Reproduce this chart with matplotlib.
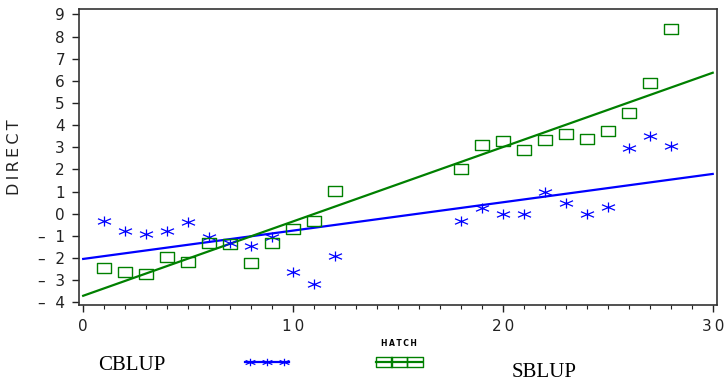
import numpy as np
import matplotlib
matplotlib.use("Agg")
import matplotlib.pyplot as plt
from matplotlib.path import Path
from matplotlib.lines import Line2D
from matplotlib.ticker import FixedLocator, MultipleLocator, FuncFormatter

# Data
hatch = np.array([1, 2, 3, 4, 5, 6, 7, 8, 9, 10, 11, 12,
                  18, 19, 20, 21, 22, 23, 24, 25, 26, 27, 28])
cblup = np.array([-0.34, -0.79, -0.92, -0.79, -0.38, -1.06, -1.33, -1.46, -1.06, -2.62, -3.18, -1.90,
                  -0.34, 0.28, -0.02, 0.01, 0.98, 0.50, 0.01, 0.31, 2.96, 3.49, 3.05])
sblup = np.array([-2.47, -2.65, -2.73, -1.97, -2.17, -1.31, -1.37, -2.21, -1.30, -0.70, -0.31, 1.03,
                  2.04, 3.09, 3.30, 2.86, 3.31, 3.61, 3.36, 3.73, 4.54, 5.89, 8.34])
y_ticks = list(range(-4, 10))
x_ticks = [0, 10, 20, 30]

blue = '#0000ff'
green = '#008000'

# marker bintang & kotak ala SAS
star = Path([(0, -1), (0, 1), (-1.3, -0.55), (1.3, 0.55), (-1.3, 0.55), (1.3, -0.55)],
            [Path.MOVETO, Path.LINETO, Path.MOVETO, Path.LINETO, Path.MOVETO, Path.LINETO])
box = Path([(-1, -0.65), (1, -0.65), (1, 0.65), (-1, 0.65), (-1, -0.65)],
           [Path.MOVETO, Path.LINETO, Path.LINETO, Path.LINETO, Path.CLOSEPOLY])

fig = plt.figure(figsize=(7.26, 3.83), dpi=100)
ax = fig.add_axes([0.1085, 0.2037, 0.8787, 0.772])

# garis regresi
xr = np.array([0, 30])
for y, c in [(cblup, blue), (sblup, green)]:
    b, a = np.polyfit(hatch, y, 1)
    ax.plot(xr, a + b * xr, color=c, lw=1.6, zorder=2)

ax.plot(hatch, cblup, linestyle='none', marker=star, markersize=9.4,
        markeredgecolor=blue, markeredgewidth=0.9, zorder=3)
ax.plot(hatch, sblup, linestyle='none', marker=box, markersize=10.2,
        markerfacecolor='none', markeredgecolor=green, markeredgewidth=1.0, zorder=3)

ax.set_xlim(-0.21, 30.19)
ax.set_ylim(-4.12, 9.23)

ax.xaxis.set_major_locator(FixedLocator(x_ticks))
ax.xaxis.set_minor_locator(MultipleLocator(1))
ax.yaxis.set_major_locator(FixedLocator(y_ticks))
ax.xaxis.set_major_formatter(FuncFormatter(lambda v, p: '\u2009'.join(str(int(v)))))
ax.yaxis.set_major_formatter(FuncFormatter(
    lambda v, p: ('\u2013  ' + str(abs(int(v)))) if v < 0 else str(int(v))))

ax.tick_params(axis='both', which='major', direction='out', length=5, width=1,
               labelsize=11, colors='#222222')
ax.tick_params(axis='x', which='major', pad=5)
ax.tick_params(axis='y', which='major', pad=5)
ax.tick_params(axis='x', which='minor', direction='out', length=3, width=0.8, color='#222222')

for s in ax.spines.values():
    s.set_color('#333333')
    s.set_linewidth(1.2)

ax.set_ylabel('D\u2009I\u2009R\u2009E\u2009C\u2009T', fontsize=11.5, color='#222222', labelpad=11)

# legenda manual di bawah
W, H = 726.0, 383.0
fig.text(98 / W, (H - 370) / H, 'CBLUP', fontsize=15, family='Liberation Serif',
         ha='left', va='baseline')
fig.text(512 / W, (H - 377) / H, 'SBLUP', fontsize=15, family='Liberation Serif',
         ha='left', va='baseline')
fig.text(398.5 / W, (H - 344) / H, 'H\u2009A\u2009T\u2009C\u2009H', fontsize=5.5,
         fontweight='bold', ha='center', va='center')

fig.add_artist(Line2D([245 / W, 289 / W], [(H - 362) / H] * 2, color=blue, lw=1.6,
                      transform=fig.transFigure))
fig.add_artist(Line2D([250 / W, 267 / W, 284 / W], [(H - 362) / H] * 3, linestyle='none',
                      marker=star, markersize=7, markeredgecolor=blue, markeredgewidth=0.9,
                      transform=fig.transFigure))
fig.add_artist(Line2D([376 / W, 422 / W], [(H - 362) / H] * 2, color=green, lw=1.6,
                      transform=fig.transFigure))
fig.add_artist(Line2D([383.5 / W, 399 / W, 414.5 / W], [(H - 362) / H] * 3, linestyle='none',
                      marker=box, markersize=11, markerfacecolor='none', markeredgecolor=green,
                      markeredgewidth=1.0, transform=fig.transFigure))

fig.savefig('out.png', dpi=100)
